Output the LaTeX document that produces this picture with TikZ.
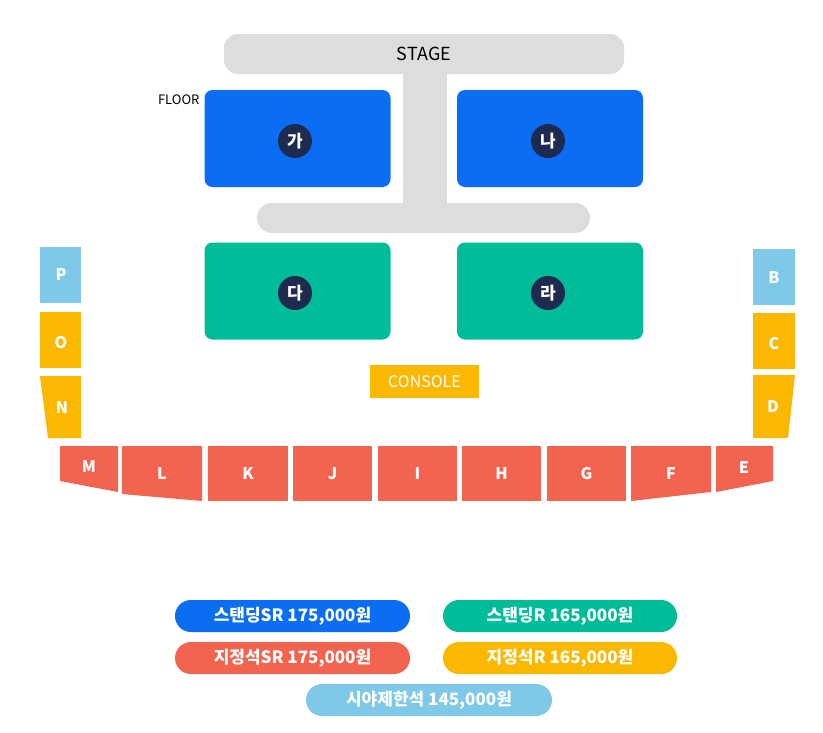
\documentclass[tikz,border=0pt]{standalone}
\usepackage{fontspec}
\setmainfont{Noto Sans CJK KR}
\begin{document}
\begin{tikzpicture}[x=1pt,y=-1pt,
  seat/.style={draw=white,line width=1pt,text=white,font=\bfseries\fontsize{16}{16}\selectfont},
  blk/.style={rounded corners=8pt,minimum width=186pt,minimum height=97pt,inner sep=0pt},
  circ/.style={circle,fill=navy,minimum size=34pt,inner sep=0pt,text=white,font=\bfseries\fontsize{17}{17}\selectfont},
  pill/.style={rounded corners=16pt,minimum height=32pt,inner sep=0pt,text=white,font=\bfseries\fontsize{17}{17}\selectfont}]
\definecolor{stagegray}{HTML}{DCDDDD}
\definecolor{fblue}{HTML}{0B6EF2}
\definecolor{fgreen}{HTML}{00BC98}
\definecolor{navy}{HTML}{1E2A50}
\definecolor{syellow}{HTML}{FBB800}
\definecolor{sred}{HTML}{F26450}
\definecolor{lblue}{HTML}{7EC8E8}
\useasboundingbox (0,0) rectangle (823,732);
% stage
\fill[stagegray,rounded corners=14pt] (224,34) rectangle (624,74);
\fill[stagegray] (403,60) rectangle (447,215);
\fill[stagegray,rounded corners=15pt] (257,203) rectangle (590,233);
\node[font=\fontsize{18}{18}\selectfont] (stage) at (424,54) {STAGE};
\node[font=\fontsize{13}{13}\selectfont,anchor=east] (floor) at (203,100) {FLOOR};
% floor blocks
\node[blk,fill=fblue] (ga) at (297.5,138.5) {};
\node[blk,fill=fblue] (na) at (550,138.5) {};
\node[blk,fill=fgreen] (da) at (297.5,291) {};
\node[blk,fill=fgreen] (ra) at (550,291) {};
\node[circ] (cga) at (295,141) {가};
\node[circ] (cna) at (548,141) {나};
\node[circ] (cda) at (295,293) {다};
\node[circ] (cra) at (548,293) {라};
% console
\node[fill=syellow,text=white,minimum width=109pt,minimum height=33pt,inner sep=0pt,font=\fontsize{16}{16}\selectfont] (console) at (424.5,381.5) {CONSOLE};
% side sections
\fill[lblue] (40,247) rectangle (81,303); \node[seat,draw=none] (P) at (61,275) {P};
\fill[syellow] (40,312) rectangle (81,368); \node[seat,draw=none] (O) at (61,343) {O};
\fill[syellow] (40,376) -- (81,376) -- (81,438) -- (48,438) -- cycle; \node[seat,draw=none] (N) at (62,408) {N};
\fill[lblue] (753,249) rectangle (795,305); \node[seat,draw=none] (B) at (774,278) {B};
\fill[syellow] (753,313) rectangle (795,369); \node[seat,draw=none] (C) at (774,344) {C};
\fill[syellow] (753,375) -- (795,375) -- (788,438) -- (753,438) -- cycle; \node[seat,draw=none] (D) at (773,407) {D};
% bottom row
\fill[sred] (60,446) -- (118,446) -- (118,492) -- (60,481) -- cycle; \node[seat,draw=none] (M) at (89,467) {M};
\fill[sred] (122,446) -- (202,446) -- (202,501) -- (122,494) -- cycle; \node[seat,draw=none] (L) at (162,474) {L};
\foreach \a/\b/\t in {208/288/K,293/372/J,378/457/I,462/541/H,547/626/G}{
  \fill[sred] (\a,446) rectangle (\b,501);
  \node[seat,draw=none] (s\t) at ({(\a+\b)/2},474) {\t};
}
\fill[sred] (631,446) -- (711,446) -- (711,492) -- (631,501) -- cycle; \node[seat,draw=none] (F) at (671,474) {F};
\fill[sred] (716,446) -- (773,446) -- (773,481) -- (716,492) -- cycle; \node[seat,draw=none] (E) at (744,468) {E};
% legend
\node[pill,fill=fblue,minimum width=235pt] (l1) at (292.5,616) {스탠딩SR 175,000원};
\node[pill,fill=fgreen,minimum width=234pt] (l2) at (560,616) {스탠딩R 165,000원};
\node[pill,fill=sred,minimum width=235pt] (l3) at (292.5,658) {지정석SR 175,000원};
\node[pill,fill=syellow,minimum width=234pt] (l4) at (560,658) {지정석R 165,000원};
\node[pill,fill=lblue,minimum width=246pt] (l5) at (429,700) {시야제한석 145,000원};
\end{tikzpicture}
\end{document}
